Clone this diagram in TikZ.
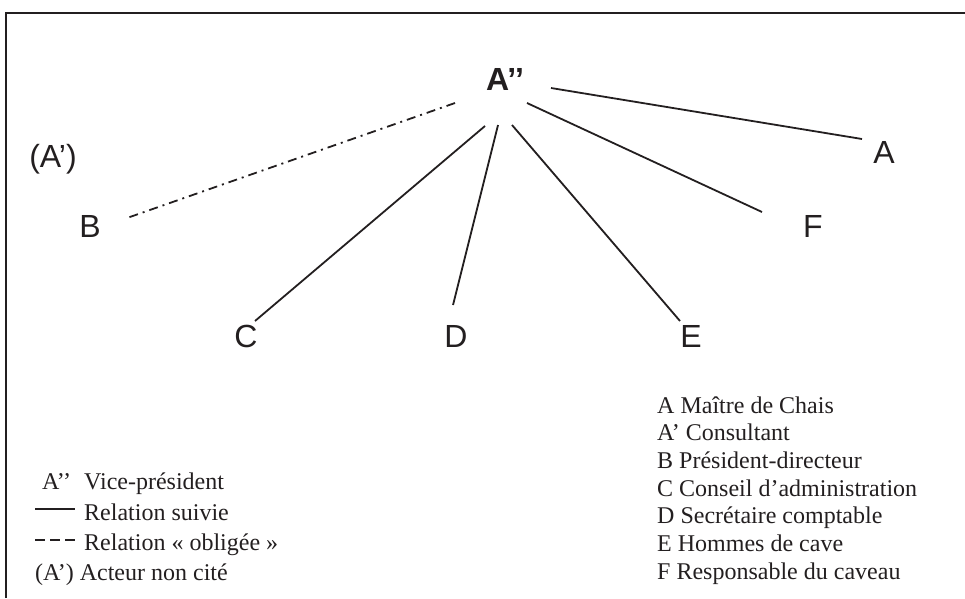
\documentclass[tikz,border=0pt]{standalone}
\usepackage{fontspec}
\setmainfont{Liberation Serif}
\newfontfamily\sansf{Liberation Sans}
\usetikzlibrary{calc}
\definecolor{ink}{RGB}{35,31,32}
\tikzset{
  lbl/.style={inner sep=0pt, anchor=base, text=ink, font=\sansf\fontsize{32}{36}\selectfont},
  leg/.style={inner sep=0pt, anchor=base west, text=ink, font=\fontsize{24}{28}\selectfont},
  rel/.style={draw=ink, line width=1.8pt},
  relob/.style={draw=ink, line width=1.8pt, dash pattern=on 9pt off 5pt on 2pt off 5pt},
  frame/.style={draw=ink, line width=2pt}
}
\begin{document}
\begin{tikzpicture}[x=1pt,y=-1pt]
\useasboundingbox (0,0) rectangle (965,598);
% frame
\draw[frame] (5.5,598) -- (5.5,12.5) -- (965,12.5);
% actor nodes
\node[lbl, font=\sansf\bfseries\fontsize{32}{36}\selectfont] (App) at (505,90) {A’’};
\node[lbl] (Ap) at (53,167) {(A’)};
\node[lbl] (B) at (90,237) {B};
\node[lbl] (A) at (884,163) {A};
\node[lbl] (F) at (813,237) {F};
\node[lbl] (C) at (246,347) {C};
\node[lbl] (D) at (456,347) {D};
\node[lbl] (E) at (691,347) {E};
% connectors
\draw[relob] ($(App.base)+(-50,13)$) -- ($(B.base)+(37,-19)$);
\draw[rel] ($(App.base)+(-20,36)$) -- ($(C.base)+(9,-26)$);
\draw[rel] ($(App.base)+(-7,35)$) -- ($(D.base)+(-3,-42)$);
\draw[rel] ($(App.base)+(7,35)$) -- ($(E.base)+(-11,-26)$);
\draw[rel] ($(App.base)+(22,13)$) -- ($(F.base)+(-51,-25)$);
\draw[rel] ($(App.base)+(46,-2)$) -- ($(A.base)+(-22,-24)$);
% left legend
\node[leg] (l1a) at (42,489) {A’’};
\node[leg] (l1b) at (84,489) {Vice-président};
\node[leg] (l2) at (84,520) {Relation suivie};
\node[leg] (l3) at (84,550) {Relation « obligée »};
\node[leg] (l4) at (35,580) {(A’) Acteur non cité};
\coordinate (s2a) at (35,509);
\coordinate (s2b) at (75,509);
\coordinate (s3a) at (35,540);
\coordinate (s3b) at (75,540);
\draw[draw=ink, line width=1.2pt] (s2a) -- (s2b);
\draw[draw=ink, line width=1.2pt, dash pattern=on 10pt off 5pt] (s3a) -- (s3b);
% right legend
\node[leg] (r1) at (657,413) {A Maître de Chais};
\node[leg] (r2) at (657,440.7) {A’ Consultant};
\node[leg] (r3) at (657,468.3) {B Président-directeur};
\node[leg] (r4) at (657,496) {C Conseil d’administration};
\node[leg] (r5) at (657,523.7) {D Secrétaire comptable};
\node[leg] (r6) at (657,551.3) {E Hommes de cave};
\node[leg] (r7) at (657,579) {F Responsable du caveau};
\end{tikzpicture}
\end{document}
